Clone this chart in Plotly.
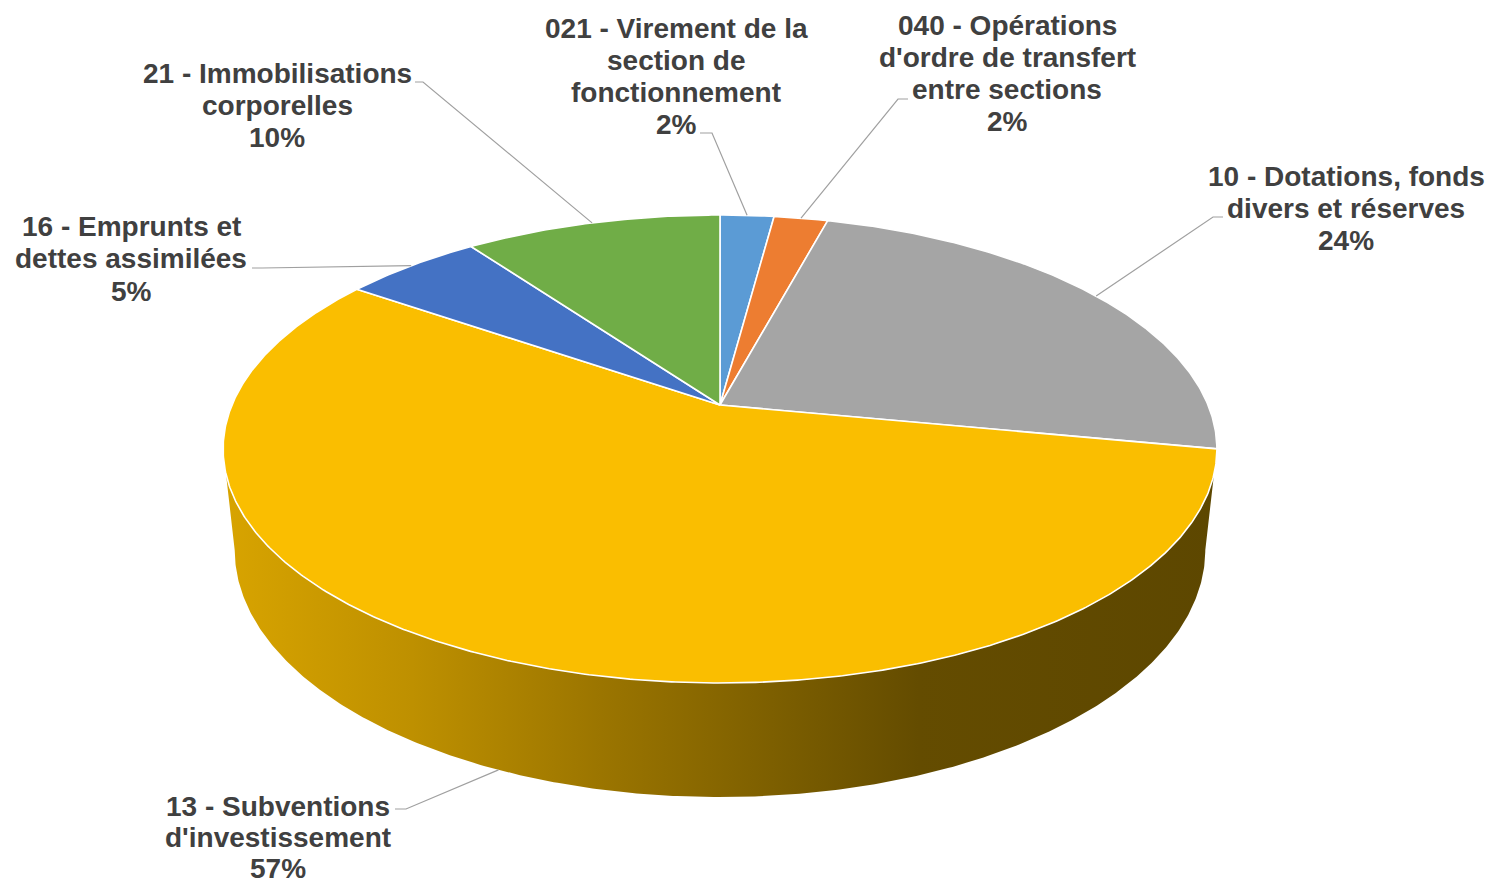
import numpy as np
import plotly.graph_objects as go

# ---------------- data ----------------
categories = [
    "021 - Virement de la section de fonctionnement",
    "040 - Opérations d'ordre de transfert entre sections",
    "10 - Dotations, fonds divers et réserves",
    "13 - Subventions d'investissement",
    "16 - Emprunts et dettes assimilées",
    "21 - Immobilisations corporelles",
]
values = [2.1, 2.1, 23.8, 56.6, 5.4, 10.0]
label_lines = [
    ["021 - Virement de la", "section de", "fonctionnement"],
    ["040 - Opérations", "d'ordre de transfert", "entre sections"],
    ["10 - Dotations, fonds", "divers et réserves"],
    ["13 - Subventions", "d'investissement"],
    ["16 - Emprunts et", "dettes assimilées"],
    ["21 - Immobilisations", "corporelles"],
]

# ---------------- styles / layout ----------------
top_colors = ["#5B9BD5", "#ED7D31", "#A5A5A5", "#FABE00", "#4472C4", "#70AD47"]
# label placement: centre x, first line y, line step
label_pos = [
    (676, 28, 32.2), (1007, 25, 32.3), (1346, 176, 32), (278, 806, 31), (131, 226, 32.5), (277, 73, 32),
]
# leader stubs: (x at label, x after stub, y), and which rim the leader touches
stubs = [
    (700, 712, 133), (908, 898, 99), (1223, 1213, 217), (395, 406, 809), (252, 262, 268), (415, 423, 82),
]
leader_rim = ["top", "top", "top", "bottom", "top", "top"]

W, H = 1488, 886
CX, CY = 720, 405
F, R, SA, CA, DEPTH = 2302.0, 0.212, 0.4625, 0.887, 0.0498
FONT = "Liberation Sans, Arial, sans-serif"
TXT = "#404040"
LEADER = "#A0A0A0"


def project(theta, h=0.0):
    theta = np.asarray(theta, dtype=float)
    X = R * np.sin(theta)
    Z = R * np.cos(theta)
    Y = -h
    dep = 1.0 + Z * CA - Y * SA
    x = CX + F * X / dep
    y = CY - F * (Z * SA + Y * CA) / dep
    return x, y


def arc(a, b, h=0.0):
    n = max(int(abs(b - a) / np.radians(0.4)), 2)
    return project(np.linspace(a, b, n), h)


def shade(hexcol, k):
    r, g, b = (int(hexcol[i:i + 2], 16) for i in (1, 3, 5))
    return f"rgb({int(r * k)},{int(g * k)},{int(b * k)})"


total = sum(values)
fracs = [v / total for v in values]
cum = np.concatenate([[0], np.cumsum(fracs)])
angles = cum * 2 * np.pi  # clockwise from 12 o'clock

# silhouette angles of the top and bottom rims
tt = np.linspace(0, 2 * np.pi, 7201)
xt, _ = project(tt)
xb, _ = project(tt, DEPTH)
tR_top, tL_top = tt[np.argmax(xt)], tt[np.argmin(xt)]
tR_bot, tL_bot = tt[np.argmax(xb)], tt[np.argmin(xb)]
x_left, x_right = xt.min(), xt.max()

fig = go.Figure()

# ---- side walls (front, visible part only) ----
side_mult = [[0.0, 0.865], [0.19, 0.76], [0.38, 0.62], [0.575, 0.486], [0.70, 0.40], [1.0, 0.375]]
for i, col in enumerate(top_colors):
    a, b = angles[i], angles[i + 1]
    lo, hi = max(a, tR_top), min(b, tL_top)
    if hi <= lo:
        continue
    lo_b = tR_bot if a <= tR_top else a
    hi_b = tL_bot if b >= tL_top else b
    x1, y1 = arc(lo, hi)
    x2, y2 = arc(hi_b, lo_b, DEPTH)
    xs = np.concatenate([x1, x2, x1[:1]])
    ys = np.concatenate([y1, y2, y1[:1]])
    fig.add_trace(go.Scatter(
        x=xs, y=ys, mode="lines", fill="toself", line=dict(width=0, color="rgba(0,0,0,0)"),
        fillgradient=dict(type="horizontal", start=x_left, stop=x_right,
                          colorscale=[[p, shade(col, m)] for p, m in side_mult]),
        hoverinfo="skip", showlegend=False,
    ))

# ---- top faces ----
for i, col in enumerate(top_colors):
    xa, ya = arc(angles[i], angles[i + 1])
    xs = np.concatenate([[CX], xa, [CX]])
    ys = np.concatenate([[CY], ya, [CY]])
    fig.add_trace(go.Scatter(
        x=xs, y=ys, mode="lines", fill="toself", fillcolor=col,
        line=dict(color="white", width=1.6), name=categories[i],
        hoverinfo="name", showlegend=False,
    ))

# ---- leader lines ----
for i in range(len(values)):
    mid = (angles[i] + angles[i + 1]) / 2
    ex, ey = project(mid, DEPTH if leader_rim[i] == "bottom" else 0.0)
    sx0, sx1, sy = stubs[i]
    fig.add_trace(go.Scatter(
        x=[sx0, sx1, float(ex)], y=[sy, sy, float(ey)], mode="lines",
        line=dict(color=LEADER, width=1.2), hoverinfo="skip", showlegend=False,
    ))

# ---- labels ----
annotations = []
for i in range(len(values)):
    cx, y0, step = label_pos[i]
    lines = label_lines[i] + [f"{round(100 * fracs[i])}%"]
    for j, t in enumerate(lines):
        annotations.append(dict(
            x=cx, y=y0 + j * step, xref="x", yref="y", text=t, showarrow=False,
            xanchor="center", yanchor="middle",
            font=dict(family=FONT, size=28, color=TXT, weight="bold"),
        ))

fig.update_layout(
    width=W, height=H, autosize=False,
    margin=dict(l=0, r=0, t=0, b=0),
    paper_bgcolor="white", plot_bgcolor="white",
    xaxis=dict(range=[0, W], visible=False, fixedrange=True),
    yaxis=dict(range=[H, 0], visible=False, fixedrange=True),
    annotations=annotations,
    showlegend=False,
)

fig.write_html(
    "out.html",
    config={"displayModeBar": False},
    post_script="document.body.style.margin='0px'; document.body.style.overflow='hidden';",
)
